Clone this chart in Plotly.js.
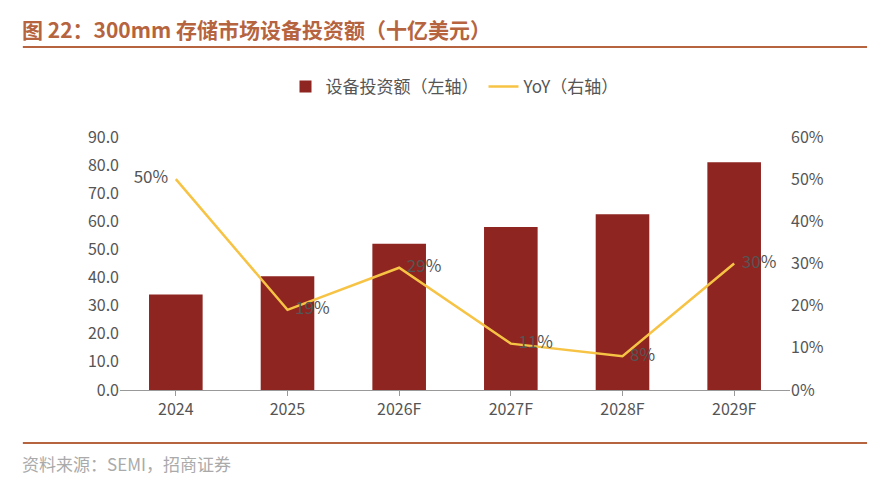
<!DOCTYPE html>
<html><head><meta charset="utf-8">
<script src="https://cdn.plot.ly/plotly-3.0.1.min.js"></script>
<style>body{margin:0}#c{width:892px;height:488px}</style>
</head><body><div id="c"></div>
<script>
const years = ['2024', '2025', '2026F', '2027F', '2028F', '2029F'];
const invest = [34.0, 40.5, 52.0, 58.0, 62.5, 81.0];
const yoy = [0.50, 0.19, 0.29, 0.11, 0.08, 0.30];
const yoyLabels = ['50%  ', '  19%', '  29%', '  11%', '  8%', '  30%'];
const labelPos = ['middle left', 'middle right', 'middle right', 'middle right', 'middle right', 'middle right'];

const font = "'Noto Sans CJK SC', 'Liberation Sans', sans-serif";
const brown = '#b5643f';

const bars = {
  x: years, y: invest, type: 'bar', name: '设备投资额（左轴）',
  marker: {color: '#8e2520'}, yaxis: 'y'
};
const line = {
  x: years, y: yoy, type: 'scatter', mode: 'lines+text', name: 'YoY（右轴）',
  line: {color: '#f6c344', width: 2.5}, yaxis: 'y2',
  text: yoyLabels, textposition: labelPos,
  textfont: {size: 17, color: '#555', family: font}, cliponaxis: false
};

const layout = {
  width: 892, height: 488,
  margin: {l: 120, r: 102, t: 137, b: 98},
  paper_bgcolor: '#fff', plot_bgcolor: '#fff',
  font: {family: font, size: 16, color: '#555'},
  showlegend: true,
  legend: {orientation: 'h', x: 0.5, xanchor: 'center', y: 1.198, yanchor: 'middle',
    font: {size: 17, color: '#555'}, traceorder: 'normal'},
  bargap: 0.52,
  xaxis: {type: 'category', showline: true, linecolor: '#999', ticks: 'outside', tickcolor: '#999', ticklen: 5,
    tickfont: {size: 16}},
  yaxis: {range: [0, 90], dtick: 10, tickformat: '.1f', showgrid: false, zeroline: false,
    tickfont: {size: 16}},
  yaxis2: {range: [0, 0.6], dtick: 0.1, tickformat: '.0%', overlaying: 'y', side: 'right',
    showgrid: false, zeroline: false, tickfont: {size: 16}},
  shapes: [
    {type: 'line', xref: 'paper', yref: 'paper', x0: -0.145, x1: 1.115, y0: 1.356, y1: 1.356,
      line: {color: brown, width: 2}},
    {type: 'line', xref: 'paper', yref: 'paper', x0: -0.145, x1: 1.115, y0: -0.209, y1: -0.209,
      line: {color: brown, width: 2}}
  ],
  annotations: [
    {xref: 'paper', yref: 'paper', x: -0.15, y: 1.425, xanchor: 'left', yanchor: 'middle', showarrow: false,
      text: '<b>图 22：300mm 存储市场设备投资额（十亿美元）</b>', font: {size: 21, color: brown}},
    {xref: 'paper', yref: 'paper', x: -0.15, y: -0.289, xanchor: 'left', yanchor: 'middle', showarrow: false,
      text: '资料来源：SEMI，招商证券', font: {size: 17, color: '#aaa'}}
  ]
};

Plotly.newPlot('c', [bars, line], layout, {displayModeBar: false});
</script></body></html>
